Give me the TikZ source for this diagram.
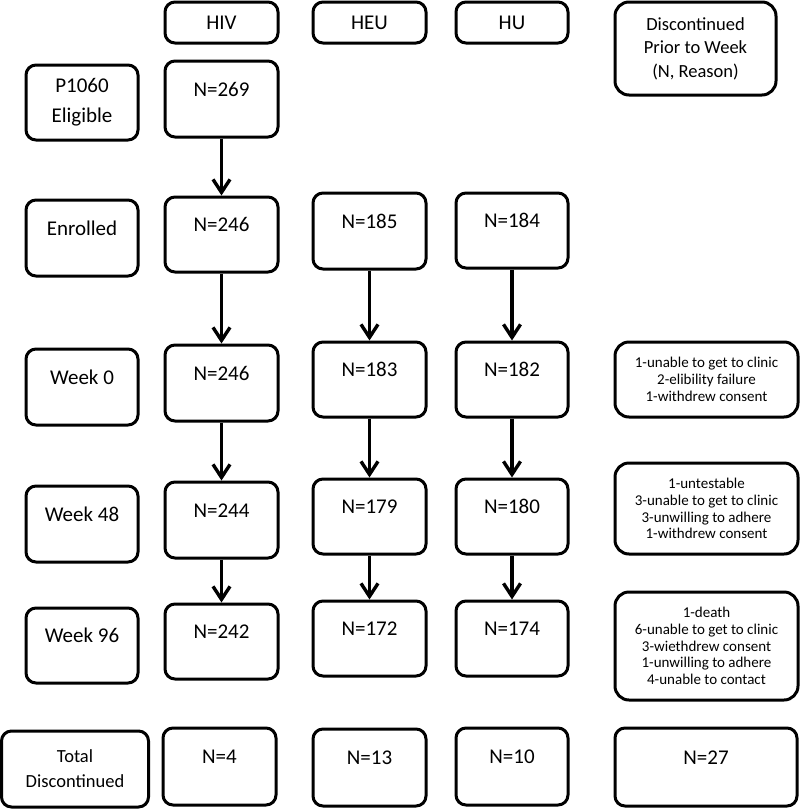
\documentclass[tikz,border=0pt]{standalone}
\usepackage{fontspec}
\setmainfont{Carlito}
\usetikzlibrary{arrows.meta}
\begin{document}
\begin{tikzpicture}[x=0.5pt,y=-0.5pt,
 base/.style={draw=black, line width=1.5pt, rounded corners=5pt, inner sep=0pt, fill=white},
 sz/.style 2 args={minimum width=#1*0.5pt, minimum height=#2*0.5pt},
 one/.style={base, font=\fontsize{10.5}{12.6}\selectfont, text height=6pt, text depth=8.7pt},
 hdr/.style={base, font=\fontsize{10.5}{12.6}\selectfont},
 two/.style={base, align=center, font=\fontsize{10.5}{15}\selectfont},
 mid/.style={base, align=center, rounded corners=7pt, font=\fontsize{9.25}{11.7}\selectfont},
 tot/.style={base, align=center, font=\fontsize{9.25}{12.5}\selectfont},
 rsn/.style={base, align=center, rounded corners=7pt, font=\fontsize{7.5}{8.4}\selectfont},
 arr/.style={line width=1.7pt, -{Straight Barb[length=6.5pt,width=8.5pt]}}
]
\useasboundingbox (0,0) rectangle (800,809);
% headers
\node[hdr, sz={113}{41}] (hHIV) at (221.5,22.5) {HIV};
\node[hdr, sz={113}{41}] (hHEU) at (369.5,22.5) {HEU};
\node[hdr, sz={112}{41}] (hHU) at (512,22.5) {HU};
\node[mid, sz={161}{93}] (hDis) at (695.5,48.5) {Discontinued\\Prior to Week\\(N, Reason)};
% eligible
\node[two, sz={112}{75}] (lElig) at (82,102.5) {P1060\\Eligible};
\node[one, sz={113}{76}] (n269) at (221.5,99) {N=269\hspace{11pt}};
% enrolled
\node[one, sz={112}{76}] (lEnr) at (82,238) {Enrolled};
\node[one, sz={113}{75}] (eHIV) at (221.5,234.5) {N=246};
\node[one, sz={113}{76}] (eHEU) at (369.5,231) {N=185};
\node[one, sz={112}{75}] (eHU) at (512,230.5) {N=184};
% week 0
\node[one, sz={112}{76}] (lW0) at (82,387) {Week 0};
\node[one, sz={113}{76}] (aHIV) at (221.5,383) {N=246};
\node[one, sz={113}{75}] (aHEU) at (369.5,379.5) {N=183};
\node[one, sz={112}{75}] (aHU) at (512,379.5) {N=182};
\node[rsn, sz={183}{75}] (r0) at (706.5,379.5) {1-unable to get to clinic\\2-elibility failure\\1-withdrew consent};
% week 48
\node[one, sz={112}{76}] (lW48) at (82,524) {Week 48};
\node[one, sz={113}{76}] (bHIV) at (221.5,520) {N=244};
\node[one, sz={113}{75}] (bHEU) at (369.5,516.5) {N=179};
\node[one, sz={112}{75}] (bHU) at (512,516.5) {N=180};
\node[rsn, sz={183}{91}] (r48) at (706.5,508.5) {1-untestable\\3-unable to get to clinic\\3-unwilling to adhere\\1-withdrew consent};
% week 96
\node[one, sz={112}{75}] (lW96) at (82,645.5) {Week 96};
\node[one, sz={113}{75}] (cHIV) at (221.5,641.5) {N=242};
\node[one, sz={113}{75}] (cHEU) at (369.5,638.5) {N=172};
\node[one, sz={112}{75}] (cHU) at (512,638.5) {N=174};
\node[rsn, sz={183}{108}] (r96) at (706.5,646) {1-death\\6-unable to get to clinic\\3-wiethdrew consent\\1-unwilling to adhere\\4-unable to contact};
% totals
\node[tot, sz={147}{76}] (lTot) at (75,769) {Total\\Discontinued};
\node[one, sz={113}{77}] (tHIV) at (219.5,766.5) {N=4};
\node[one, sz={113}{77}] (tHEU) at (369.5,767.5) {N=13};
\node[one, sz={112}{77}] (tHU) at (512,766.5) {N=10};
\node[one, sz={182}{78}] (tAll) at (706,767) {N=27};
% arrows
\draw[arr] (n269) -- (eHIV);
\draw[arr] (eHIV) -- (aHIV);
\draw[arr] (aHIV) -- (bHIV);
\draw[arr] (bHIV) -- (cHIV);
\draw[arr] (eHEU) -- (aHEU);
\draw[arr] (aHEU) -- (bHEU);
\draw[arr] (bHEU) -- (cHEU);
\draw[arr] (eHU) -- (aHU);
\draw[arr] (aHU) -- (bHU);
\draw[arr] (bHU) -- (cHU);
\end{tikzpicture}
\end{document}
